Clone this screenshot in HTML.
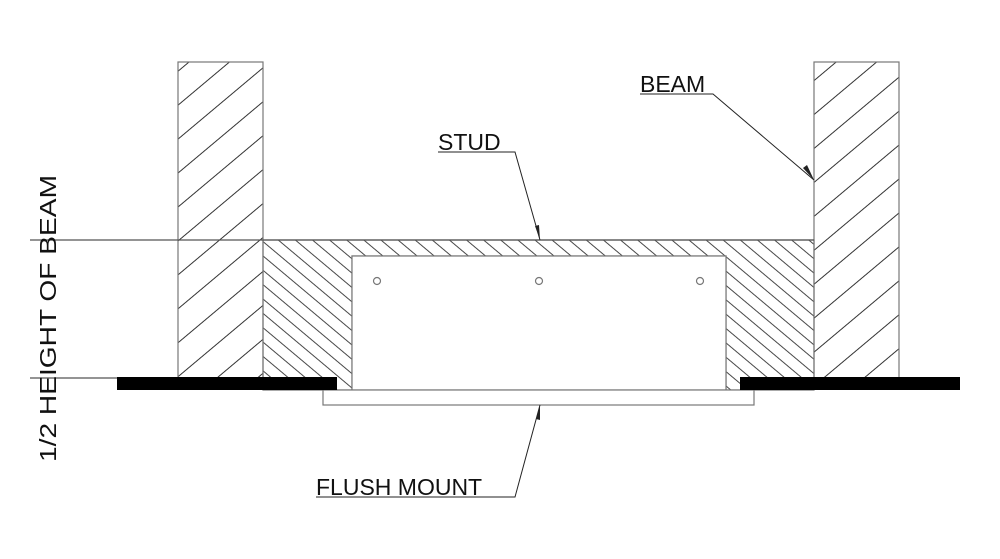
<!DOCTYPE html>
<html><head><style>body{margin:0;background:#fff}svg{display:block}</style></head>
<body>
<svg width="1000" height="559" viewBox="0 0 1000 559" xmlns="http://www.w3.org/2000/svg">
<defs>
<pattern id="bh" patternUnits="userSpaceOnUse" width="26" height="26" patternTransform="rotate(-40)">
<line x1="0" y1="13" x2="26" y2="13" stroke="#333" stroke-width="1"/>
</pattern>
<pattern id="sh" patternUnits="userSpaceOnUse" width="11" height="11" patternTransform="rotate(40)">
<line x1="0" y1="5" x2="11" y2="5" stroke="#333" stroke-width="0.9"/>
</pattern>
</defs>
<g stroke="#777" stroke-width="1.2" fill="none">
<!-- stud hatch -->
<path d="M263 240 H814 V390 H726 V256 H352 V390 H263 Z" fill="url(#sh)"/>
<rect x="178" y="62" width="85" height="316" fill="url(#bh)"/>
<rect x="814" y="62" width="85" height="316" fill="url(#bh)"/>
<rect x="352" y="256" width="374" height="134" fill="#fff"/>
<rect x="323" y="390" width="431" height="15" fill="#fff"/>
<line x1="30" y1="240" x2="814" y2="240" stroke="#555"/>
<line x1="30" y1="378" x2="178" y2="378" stroke="#555"/>
<circle cx="377" cy="281" r="3.5"/><circle cx="539" cy="281" r="3.5"/><circle cx="700" cy="281" r="3.5"/>
</g>
<rect x="117" y="377" width="220" height="13" fill="#000"/>
<rect x="740" y="377" width="220" height="13" fill="#000"/>
<g stroke="#222" stroke-width="1" fill="none">
<polyline points="640,94 713,94 814,180"/>
<polyline points="438,152 515,152 540,240"/>
<polyline points="316,497 515,497 540,405"/>
</g>
<g fill="#222">
<polygon points="814,180 803,168 807,165"/>
<polygon points="540,240 535,226 539,225"/>
<polygon points="540,405 536,419 540,420"/>
</g>
<g font-family="Liberation Sans, sans-serif" font-size="23" fill="#111">
<text x="640" y="92">BEAM</text>
<text x="438" y="150">STUD</text>
<text x="316" y="495">FLUSH MOUNT</text>
<text transform="translate(56,462) rotate(-90)" textLength="287" lengthAdjust="spacingAndGlyphs">1/2 HEIGHT OF BEAM</text>
</g>
</svg>
</body></html>
